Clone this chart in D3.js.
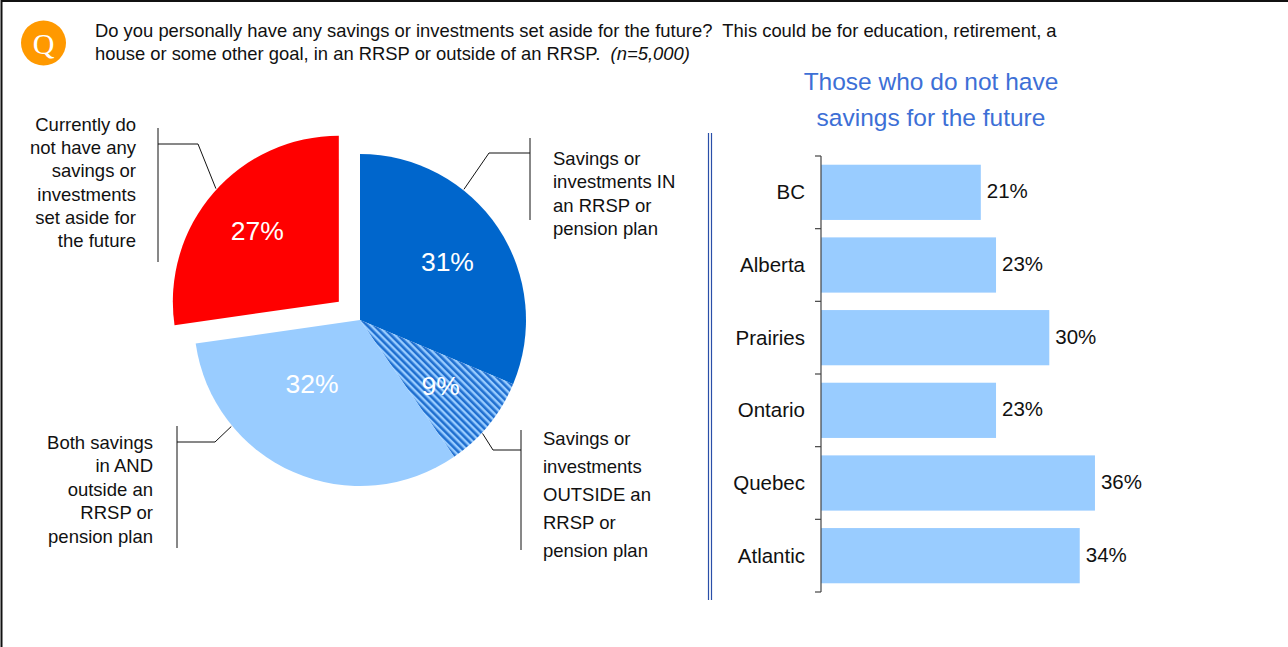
<!DOCTYPE html>
<html><head><meta charset="utf-8">
<script src="https://cdn.jsdelivr.net/npm/d3@7"></script>
<style>
body{margin:0;background:#fff;}
svg{display:block;font-family:"Liberation Sans",Arial,Helvetica,sans-serif;}
text{white-space:pre;}
</style>
</head><body>
<svg id="chart" width="1288" height="647"></svg>
<script>
// ---------------- DATA ----------------
const pieCategories = ["IN RRSP", "OUTSIDE RRSP", "Both", "No savings"];
const pieValues = [31, 9, 32, 27];
const pieLabels = ["31%", "9%", "32%", "27%"];
const pieNotes = [
  ["Savings or", "investments IN", "an RRSP or", "pension plan"],
  ["Savings or", "investments", "OUTSIDE an", "RRSP or", "pension plan"],
  ["Both savings", "in AND", "outside an", "RRSP or", "pension plan"],
  ["Currently do", "not have any", "savings or", "investments", "set aside for", "the future"]
];
const regions = ["BC", "Alberta", "Prairies", "Ontario", "Quebec", "Atlantic"];
const regionValues = [21, 23, 30, 23, 36, 34];
const regionLabels = ["21%", "23%", "30%", "23%", "36%", "34%"];
const questionLine1 = "Do you personally have any savings or investments set aside for the future?  This could be for education, retirement, a";
const questionLine2 = "house or some other goal, in an RRSP or outside of an RRSP.  ";
const questionN = "(n=5,000)";
const barTitle = ["Those who do not have", "savings for the future"];

// ---------------- LAYOUT ----------------
const svg = d3.select("#chart");
const defs = svg.append("defs");

// frame
svg.append("path").attr("d", "M1.5,700 V1 H1300").attr("fill", "none").attr("stroke", "#111").attr("stroke-width", 2);

// Q badge
svg.append("circle").attr("cx", 43.5).attr("cy", 43).attr("r", 22.5).attr("fill", "#FF9900");
svg.append("text").attr("x", 43.5).attr("y", 54).attr("text-anchor", "middle")
  .attr("font-family", "'Liberation Serif','DejaVu Serif',serif").attr("font-size", 30).attr("fill", "#fff").text("Q");

// question
svg.append("text").attr("x", 95).attr("y", 37).attr("font-size", 18.4).attr("fill", "#111").text(questionLine1);
const q2 = svg.append("text").attr("x", 95).attr("y", 60).attr("font-size", 18.4).attr("fill", "#111");
q2.append("tspan").text(questionLine2);
q2.append("tspan").attr("font-style", "italic").text(questionN);

// ---------------- PIE ----------------
const cx = 360, cy = 320, R = 166;
const pieColors = ["#0066CC", "url(#hatch)", "#99CCFF", "#FF0000"];
const explode = [0, 0, 0, 28];
const labelR = [105, 104, 80, 108];
const labelAngleShift = [0, 0, 0.23, 0];

const pat = defs.append("pattern").attr("id", "hatch").attr("patternUnits", "userSpaceOnUse")
  .attr("width", 5).attr("height", 5).attr("patternTransform", "rotate(-45)");
pat.append("rect").attr("width", 5).attr("height", 5).attr("fill", "#99CCFF");
pat.append("rect").attr("width", 2.6).attr("height", 5).attr("fill", "#1F6FD0");

const pie = d3.pie().sort(null).value(d => d)(pieValues);
const arc = d3.arc().innerRadius(0).outerRadius(R);

const g = svg.append("g").attr("transform", `translate(${cx},${cy})`);
const slices = g.selectAll("g.slice").data(pie).join("g").attr("class", "slice")
  .attr("transform", (d, i) => {
    const m = (d.startAngle + d.endAngle) / 2;
    return `translate(${explode[i] * Math.sin(m)},${-explode[i] * Math.cos(m)})`;
  });
slices.append("path").attr("d", arc).attr("fill", (d, i) => pieColors[i]);
slices.append("text")
  .attr("x", (d, i) => labelR[i] * Math.sin((d.startAngle + d.endAngle) / 2 + labelAngleShift[i]))
  .attr("y", (d, i) => -labelR[i] * Math.cos((d.startAngle + d.endAngle) / 2 + labelAngleShift[i]) + 9)
  .attr("text-anchor", "middle").attr("font-size", 26.5).attr("fill", "#fff")
  .text((d, i) => pieLabels[i]);

// annotations: anchor angle (deg), elbow, bar x, bar y-range, text x, anchor, first baseline, line height
const notes = [
  {a: 38.5, ex: 489, ey: 153, bx: 530, by1: 138, by2: 220, tx: 553, ta: "start", ty: 165, lh: 23.3},
  {a: 132.8, ex: 493, ey: 450, bx: 521, by1: 430, by2: 550, tx: 543, ta: "start", ty: 445, lh: 27.9},
  {a: 230.4, ex: 215, ey: 442, bx: 177, by1: 426, by2: 548, tx: 153, ta: "end", ty: 449, lh: 23.4},
  {a: 312.6, ex: 198, ey: 144, bx: 158, by1: 128, by2: 262, tx: 136, ta: "end", ty: 131, lh: 23.2}
];
notes.forEach((n, i) => {
  const d = pie[i];
  const m = (d.startAngle + d.endAngle) / 2;
  const ox = cx + explode[i] * Math.sin(m), oy = cy - explode[i] * Math.cos(m);
  const ar = n.a * Math.PI / 180;
  const ax = ox + (R + 1) * Math.sin(ar), ay = oy - (R + 1) * Math.cos(ar);
  svg.append("path").attr("d", `M${ax},${ay} L${n.ex},${n.ey} H${n.bx}`)
    .attr("fill", "none").attr("stroke", "#111").attr("stroke-width", 1);
  svg.append("line").attr("x1", n.bx).attr("x2", n.bx).attr("y1", n.by1).attr("y2", n.by2)
    .attr("stroke", "#111").attr("stroke-width", 1);
  const t = svg.append("text").attr("text-anchor", n.ta).attr("font-size", 18.5).attr("fill", "#111");
  pieNotes[i].forEach((ln, k) => t.append("tspan").attr("x", n.tx).attr("y", n.ty + k * n.lh).text(ln));
});

// ---------------- BAR CHART ----------------
// divider double line
[708.5, 711.5].forEach(x => svg.append("line").attr("x1", x).attr("x2", x).attr("y1", 133).attr("y2", 600)
  .attr("stroke", "#2A4FA8").attr("stroke-width", 1.2));

const bt = svg.append("text").attr("text-anchor", "middle").attr("font-size", 24.5).attr("fill", "#3D6FD6");
barTitle.forEach((ln, k) => bt.append("tspan").attr("x", 931).attr("y", 90 + k * 36).text(ln));

const x0 = 821;
const xScale = d3.scaleLinear().domain([0, 40]).range([x0, x0 + 304.4]);
const yScale = d3.scaleBand().domain(regions).range([156, 592]).paddingInner(0.24).paddingOuter(0.12);
const step = yScale.step();
const bounds = d3.range(regions.length + 1).map(k => 156 + k * step);

svg.selectAll("rect.bar").data(regions).join("rect").attr("class", "bar")
  .attr("x", xScale(0)).attr("y", d => yScale(d))
  .attr("width", (d, i) => xScale(regionValues[i]) - xScale(0))
  .attr("height", yScale.bandwidth()).attr("fill", "#99CCFF");

// axis line + boundary ticks
svg.append("line").attr("x1", x0).attr("x2", x0).attr("y1", bounds[0]).attr("y2", bounds[bounds.length - 1])
  .attr("stroke", "#444").attr("stroke-width", 1.2);
svg.selectAll("line.tick").data(bounds).join("line").attr("class", "tick")
  .attr("x1", x0 - 6).attr("x2", x0).attr("y1", d => d).attr("y2", d => d)
  .attr("stroke", "#444").attr("stroke-width", 1.2);

svg.selectAll("text.cat").data(regions).join("text").attr("class", "cat")
  .attr("x", 805).attr("y", d => yScale(d) + yScale.bandwidth() / 2 + 7)
  .attr("text-anchor", "end").attr("font-size", 20.5).attr("fill", "#111").text(d => d);

svg.selectAll("text.val").data(regions).join("text").attr("class", "val")
  .attr("x", (d, i) => xScale(regionValues[i]) + 6)
  .attr("y", d => yScale(d) + yScale.bandwidth() / 2 + 6)
  .attr("font-size", 20.5).attr("fill", "#111").text((d, i) => regionLabels[i]);
</script>
</body></html>
